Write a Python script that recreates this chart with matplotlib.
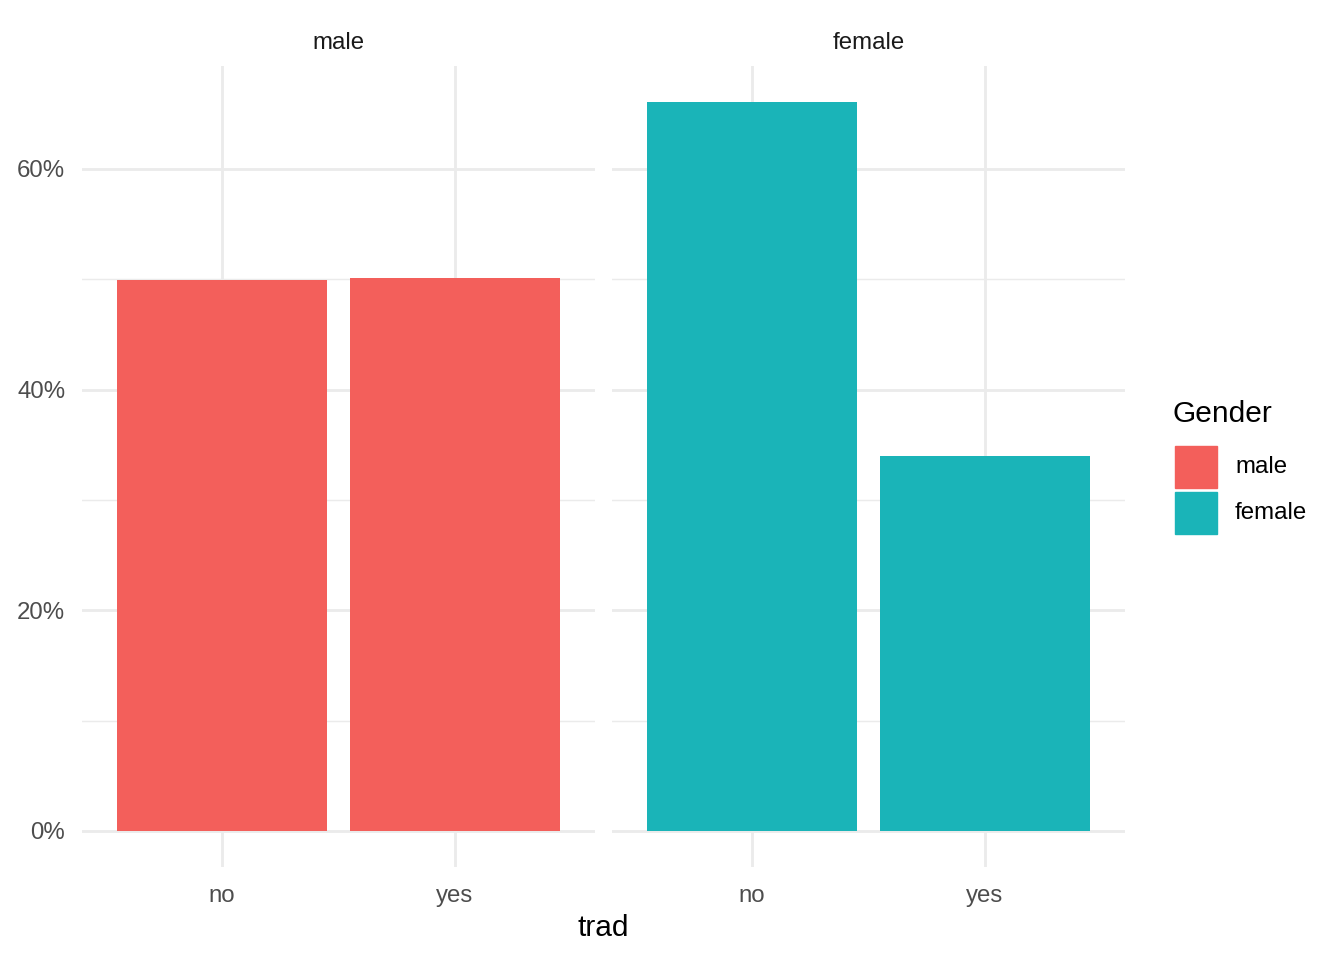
# Faceted bar chart: share of "trad" answers by gender

import matplotlib.pyplot as plt
from matplotlib.patches import Rectangle

plt.rcParams["font.family"] = ["Liberation Sans", "DejaVu Sans"]

genders = ["male", "female"]
trad = ["no", "yes"]
pct = {
    "male": [49.93, 50.11],
    "female": [66.06, 33.98],
}
colors = {"male": "#F35F5B", "female": "#1AB4B8"}

W, H = 1344, 960
fig = plt.figure(figsize=(W / 100, H / 100), dpi=100)

ymax = max(max(v) for v in pct.values())
pad = ymax * 0.05
ylim = (-pad, ymax + pad)

grey_major = "#EBEBEB"
panel_lefts = [82, 612]
panel_w = 513
top_px, bot_px = 65.6, 867.4

axes = []
for g, left in zip(genders, panel_lefts):
    ax = fig.add_axes([left / W, (H - bot_px) / H, panel_w / W, (bot_px - top_px) / H])
    x = range(len(trad))
    ax.bar(x, pct[g], width=0.9, color=colors[g], zorder=3)
    ax.set_xlim(-0.6, 1.6)
    ax.set_ylim(*ylim)
    ax.set_xticks(list(x))
    ax.set_xticklabels(trad)
    ax.set_yticks([0, 20, 40, 60])
    ax.set_yticks([10, 30, 50], minor=True)
    ax.grid(True, which="major", color=grey_major, linewidth=2.05, zorder=0)
    ax.grid(True, which="minor", axis="y", color=grey_major, linewidth=1.02, zorder=0)
    for s in ax.spines.values():
        s.set_visible(False)
    ax.tick_params(which="both", length=0, labelsize=17.3, labelcolor="#4D4D4D")
    ax.tick_params(axis="x", pad=13)
    ax.tick_params(axis="y", pad=12)
    ax.set_title(g, fontsize=17.3, color="#1A1A1A", pad=12)
    axes.append(ax)

axes[0].set_yticklabels(["0%", "20%", "40%", "60%"])
axes[1].tick_params(axis="y", labelleft=False)

fig.text(603.5 / W, 1 - 928 / H, "trad", fontsize=21.5, ha="center", va="center")

# legend
fig.text(1173 / W, 1 - 414 / H, "Gender", fontsize=21.5, ha="left", va="center")
for i, g in enumerate(genders):
    y0 = 446 + i * 46
    fig.add_artist(Rectangle((1175 / W, 1 - (y0 + 42) / H), 42 / W, 42 / H,
                             transform=fig.transFigure, color=colors[g]))
    fig.text(1235 / W, 1 - (y0 + 21) / H, g, fontsize=17.3, ha="left", va="center")

fig.savefig("out.png", dpi=100, facecolor="white")
